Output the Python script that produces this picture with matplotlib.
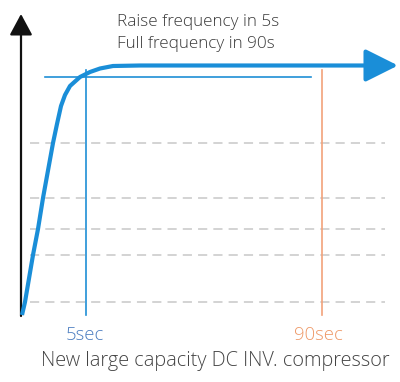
import matplotlib
matplotlib.use("Agg")
import matplotlib.pyplot as plt

# pixel-space data (x right, y down)
curve_x = [22, 25, 33, 38, 43, 53, 57, 61, 65, 70, 80, 90, 100, 113, 140, 372]
curve_y = [315, 302, 255, 229, 198, 143, 124, 106, 95, 86, 77, 72, 68.5, 66, 65.5, 65.5]
grid_y = [143, 198, 229, 255, 302]
vline_x = [86, 322]
vline_colors = ["#1f8fd6", "#f2a27a"]
tick_labels = ["5sec", "90sec"]
tick_x = [85, 318]
tick_colors = ["#4a7cc0", "#ee9866"]
hline_y = 77
hline_x = [45, 311]
notes = ["Raise frequency in 5s", "Full frequency in 90s"]
caption = "New large capacity DC INV. compressor"

plt.rcParams["font.family"] = ["Open Sans", "DejaVu Sans"]

fig = plt.figure(figsize=(4.0, 3.82), dpi=100)
ax = fig.add_axes([0, 0, 1, 1])
ax.set_xlim(0, 400)
ax.set_ylim(382, 0)
ax.axis("off")

# dashed guides
for y in grid_y:
    ax.plot([30, 385], [y, y], color="#c8c8c8", lw=1.1, ls=(0, (6, 4)), zorder=1)

# vertical markers
for x, c in zip(vline_x, vline_colors):
    ax.plot([x, x], [70, 315], color=c, lw=1.2, zorder=2)

ax.plot(hline_x, [hline_y, hline_y], color="#1f8fd6", lw=1.2, zorder=2)

# axes with arrows
ax.annotate("", xy=(21, 14), xytext=(21, 316),
            arrowprops=dict(arrowstyle="-|>,head_length=1.3,head_width=0.7",
                            color="#111111", lw=1.6, shrinkA=0, shrinkB=0), zorder=3)
ax.annotate("", xy=(401, 315), xytext=(20, 315),
            arrowprops=dict(arrowstyle="-|>,head_length=1.3,head_width=0.7",
                            color="#111111", lw=1.6, shrinkA=0, shrinkB=0), zorder=3)

# frequency curve
ax.plot(curve_x, curve_y, color="#1a8ed8", lw=3.0, solid_capstyle="butt",
        solid_joinstyle="round", zorder=4)
ax.annotate("", xy=(398, 65.5), xytext=(curve_x[-1] - 2, 65.5),
            arrowprops=dict(arrowstyle="-|>,head_length=2.0,head_width=1.0",
                            color="#1a8ed8", lw=3.0, shrinkA=0, shrinkB=0), zorder=4)

for i, t in enumerate(notes):
    ax.text(117, 22 + i * 22, t, fontsize=12.3, color="#3a3a3a", va="center",
            ha="left", fontweight="light")

for x, t, c in zip(tick_x, tick_labels, tick_colors):
    ax.text(x, 335, t, fontsize=13.3, color=c, va="center", ha="center",
            fontweight="light")

ax.text(215, 361, caption, fontsize=14.3, color="#444444", va="center",
        ha="center", fontweight="light")

fig.savefig("out.png", dpi=100)
